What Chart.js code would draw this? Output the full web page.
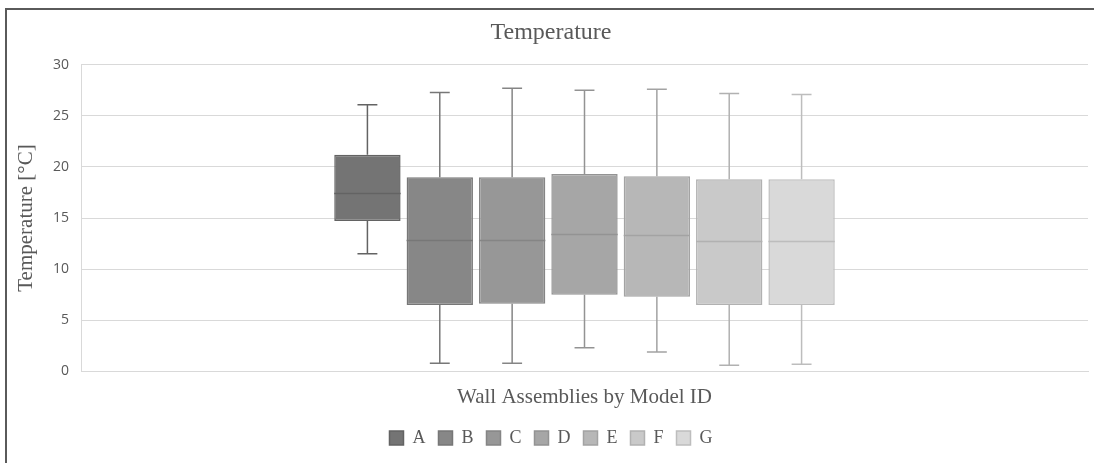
<!DOCTYPE html>
<html>
<head>
<meta charset="utf-8">
<script src="https://cdn.jsdelivr.net/npm/chart.js@4.4.1/dist/chart.umd.min.js"></script>
<style>
    html, body { margin: 0; padding: 0; background: #fff; }
    .frame {
        position: absolute;
        left: 5px;
        top: 8px;
        width: 1087px;
        height: 453px;
        border-left: 2px solid #5a5a5a;
        border-top: 2px solid #5a5a5a;
    }
</style>
</head>
<body>
<div class="frame">
    <canvas id="chart"></canvas>
</div>
<script>
// Modèles d'assemblage de murs et leurs statistiques de température (°C)
const models = ['A', 'B', 'C', 'D', 'E', 'F', 'G'];
const minValues = [11.5, 0.8, 0.8, 2.3, 1.9, 0.6, 0.7];
const q1Values = [14.7, 6.5, 6.6, 7.5, 7.3, 6.5, 6.5];
const medianValues = [17.4, 12.8, 12.8, 13.4, 13.3, 12.7, 12.7];
const q3Values = [21.2, 19.0, 19.0, 19.3, 19.1, 18.8, 18.8];
const maxValues = [26.1, 27.3, 27.7, 27.5, 27.6, 27.2, 27.1];
const yTicks = [0, 5, 10, 15, 20, 25, 30];

const fillColors = ['#747474', '#878787', '#979797', '#a6a6a6', '#b7b7b7', '#c9c9c9', '#d9d9d9'];
const lineColors = ['#636363', '#777777', '#858585', '#939393', '#a3a3a3', '#b1b1b1', '#bdbdbd'];

const serif = '"Liberation Serif", "Times New Roman", serif';
const textColor = '#595959';

// Moustaches et médianes dessinées par-dessus les boîtes
const whiskerPlugin = {
    id: 'whiskers',
    afterDatasetsDraw(chart) {
        const ctx = chart.ctx;
        const y = chart.scales.y;
        chart.data.datasets.forEach((ds, i) => {
            const bar = chart.getDatasetMeta(i).data[0];
            if (!bar) return;
            const half = bar.width / 2;
            const cap = bar.width * 0.15;
            const yMin = y.getPixelForValue(minValues[i]);
            const yQ1 = y.getPixelForValue(q1Values[i]);
            const yMed = y.getPixelForValue(medianValues[i]);
            const yQ3 = y.getPixelForValue(q3Values[i]);
            const yMax = y.getPixelForValue(maxValues[i]);

            ctx.save();
            ctx.strokeStyle = lineColors[i];
            ctx.lineWidth = 1.5;
            ctx.beginPath();
            // moustache haute
            ctx.moveTo(bar.x, yQ3);
            ctx.lineTo(bar.x, yMax);
            ctx.moveTo(bar.x - cap, yMax);
            ctx.lineTo(bar.x + cap, yMax);
            // moustache basse
            ctx.moveTo(bar.x, yQ1);
            ctx.lineTo(bar.x, yMin);
            ctx.moveTo(bar.x - cap, yMin);
            ctx.lineTo(bar.x + cap, yMin);
            // médiane
            ctx.moveTo(bar.x - half, yMed);
            ctx.lineTo(bar.x + half, yMed);
            ctx.stroke();
            ctx.restore();
        });
    }
};

new Chart(document.getElementById('chart'), {
    type: 'bar',
    data: {
        labels: [''],
        datasets: models.map((m, i) => ({
            label: m,
            data: [[q1Values[i], q3Values[i]]],
            backgroundColor: fillColors[i],
            borderColor: lineColors[i],
            borderWidth: 1.5,
            borderSkipped: false,
            categoryPercentage: 0.503,
            barPercentage: 0.917
        }))
    },
    options: {
        responsive: true,
        maintainAspectRatio: false,
        animation: false,
        layout: {
            padding: { left: 7, right: 6, top: 0, bottom: 6 }
        },
        plugins: {
            title: {
                display: true,
                text: 'Temperature',
                color: textColor,
                font: { family: serif, size: 24, weight: 'normal' },
                padding: { top: 8.5, bottom: 17.5 }
            },
            legend: {
                position: 'bottom',
                labels: {
                    color: textColor,
                    font: { family: serif, size: 18 },
                    boxWidth: 14,
                    boxHeight: 14,
                    padding: 13
                }
            },
            tooltip: { enabled: false }
        },
        scales: {
            x: {
                ticks: { display: false },
                grid: { display: false, drawTicks: false },
                border: { display: true, color: '#d9d9d9' },
                title: {
                    display: true,
                    text: 'Wall Assemblies by Model ID',
                    color: textColor,
                    font: { family: serif, size: 21 },
                    padding: { top: 13.5, bottom: 6 }
                }
            },
            y: {
                min: 0,
                max: 30,
                afterBuildTicks(scale) {
                    scale.ticks = yTicks.map(v => ({ value: v }));
                },
                afterFit(scale) {
                    scale.width = 67;
                },
                ticks: {
                    color: textColor,
                    font: { family: '"Open Sans", sans-serif', size: 14 },
                    padding: 12
                },
                grid: { color: '#d9d9d9', drawTicks: false },
                border: { display: true, color: '#d9d9d9' },
                title: {
                    display: true,
                    text: 'Temperature [°C]',
                    color: textColor,
                    font: { family: serif, size: 21 },
                    padding: { top: 0, bottom: 0 }
                }
            }
        }
    },
    plugins: [whiskerPlugin]
});
</script>
</body>
</html>
